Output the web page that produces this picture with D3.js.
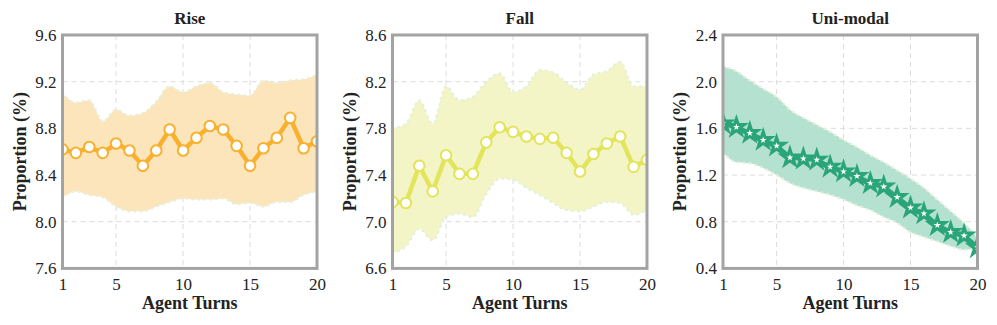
<!DOCTYPE html>
<html>
<head>
<meta charset="utf-8">
<script src="https://cdn.jsdelivr.net/npm/d3@7"></script>
<style>
  body { margin: 0; background: #fff; }
  svg { display: block; }
  .grid line { stroke: #dcdcdc; stroke-dasharray: 5,4; stroke-width: 1; }
</style>
</head>
<body>
<div id="chart"></div>
<script>
// Agent turns
var turns = d3.range(1, 21);

// Rise
var riseMean  = [8.62, 8.59, 8.64, 8.59, 8.67, 8.61, 8.48, 8.61, 8.79, 8.61, 8.72, 8.82, 8.79, 8.65, 8.48, 8.63, 8.72, 8.89, 8.63, 8.69];
var riseUpper = [9.10, 9.02, 9.04, 8.86, 8.96, 8.91, 8.93, 9.03, 9.16, 9.11, 9.16, 9.19, 9.11, 9.09, 9.08, 9.21, 9.19, 9.21, 9.22, 9.26];
var riseLower = [8.21, 8.26, 8.23, 8.21, 8.13, 8.09, 8.09, 8.13, 8.17, 8.20, 8.19, 8.19, 8.20, 8.15, 8.16, 8.13, 8.17, 8.17, 8.23, 8.26];

// Fall
var fallMean  = [7.17, 7.16, 7.48, 7.26, 7.57, 7.41, 7.41, 7.68, 7.81, 7.77, 7.73, 7.71, 7.72, 7.59, 7.43, 7.58, 7.67, 7.73, 7.47, 7.53];
var fallUpper = [7.80, 7.84, 8.04, 7.84, 8.16, 8.04, 8.07, 8.20, 8.27, 8.11, 8.16, 8.30, 8.28, 8.19, 8.13, 8.26, 8.29, 8.37, 8.16, 8.16];
var fallLower = [6.73, 6.79, 6.94, 6.84, 7.04, 7.07, 7.04, 7.24, 7.37, 7.36, 7.29, 7.23, 7.16, 7.10, 7.09, 7.13, 7.17, 7.16, 7.06, 7.10];

// Uni-modal
var uniMean  = [1.64, 1.61, 1.56, 1.50, 1.45, 1.35, 1.34, 1.33, 1.27, 1.23, 1.19, 1.13, 1.10, 1.01, 0.92, 0.87, 0.77, 0.71, 0.68, 0.58];
var uniUpper = [2.13, 2.09, 2.01, 1.94, 1.87, 1.76, 1.69, 1.63, 1.57, 1.50, 1.44, 1.37, 1.31, 1.24, 1.17, 1.09, 0.99, 0.89, 0.79, 0.67];
var uniLower = [1.39, 1.31, 1.30, 1.26, 1.20, 1.13, 1.09, 1.06, 1.03, 0.99, 0.94, 0.90, 0.84, 0.79, 0.71, 0.67, 0.63, 0.59, 0.56, 0.57];

var xTicks = [1, 5, 10, 15, 20];
var riseTicks = [7.6, 8.0, 8.4, 8.8, 9.2, 9.6];
var fallTicks = [6.6, 7.0, 7.4, 7.8, 8.2, 8.6];
var uniTicks  = [0.4, 0.8, 1.2, 1.6, 2.0, 2.4];

var panels = [
  {title: "Rise", mean: riseMean, upper: riseUpper, lower: riseLower, ticks: riseTicks,
   line: "#f8b02e", band: "#fde5bb", marker: "circle", left: 62.5},
  {title: "Fall", mean: fallMean, upper: fallUpper, lower: fallLower, ticks: fallTicks,
   line: "#e2e45a", band: "#f4f5c6", marker: "circle", left: 392.5},
  {title: "Uni-modal", mean: uniMean, upper: uniUpper, lower: uniLower, ticks: uniTicks,
   line: "#2aa57a", band: "#b5e1d0", marker: "star", left: 723}
];

var SERIF = "'Liberation Serif', 'Times New Roman', 'DejaVu Serif', serif";

function drawChart() {
  var W = 997, H = 325,
      plotW = 254.5, plotTop = 35, plotBottom = 268.4;

  var svg = d3.select("#chart").append("svg")
      .attr("width", W)
      .attr("height", H)
      .attr("font-family", SERIF);

  svg.append("defs").append("clipPath").attr("id", "plotClip")
    .append("rect")
      .attr("x", 0).attr("y", plotTop)
      .attr("width", plotW).attr("height", plotBottom - plotTop);

  panels.forEach(function(p) {
    var g = svg.append("g").attr("transform", "translate(" + p.left + ",0)");

    var x = d3.scaleLinear().domain([1, 20]).range([0, plotW]);
    var y = d3.scaleLinear().domain(d3.extent(p.ticks)).range([plotBottom, plotTop]);

    // grid
    var grid = g.append("g").attr("class", "grid");
    grid.selectAll(".gx").data(xTicks.slice(1, -1)).enter().append("line")
        .attr("x1", function(d) { return x(d); }).attr("x2", function(d) { return x(d); })
        .attr("y1", plotTop).attr("y2", plotBottom);
    grid.selectAll(".gy").data(p.ticks.slice(1, -1)).enter().append("line")
        .attr("x1", 0).attr("x2", plotW)
        .attr("y1", function(d) { return y(d); }).attr("y2", function(d) { return y(d); });

    var plot = g.append("g").attr("clip-path", "url(#plotClip)");

    // band
    var area = d3.area()
        .x(function(d, i) { return x(turns[i]); })
        .y0(function(d, i) { return y(p.lower[i]); })
        .y1(function(d, i) { return y(p.upper[i]); })
        .curve(d3.curveMonotoneX);
    plot.append("path").datum(turns)
        .attr("d", area)
        .attr("fill", p.band);

    var edge = d3.line().curve(d3.curveMonotoneX);
    [p.upper, p.lower].forEach(function(arr) {
      plot.append("path")
          .attr("d", edge(arr.map(function(v, i) { return [x(turns[i]), y(v)]; })))
          .attr("fill", "none")
          .attr("stroke", "#e4efdc")
          .attr("stroke-width", 2.4)
          .attr("stroke-linecap", "round")
          .attr("stroke-dasharray", "0.5,5.5");
    });

    // mean line
    var line = d3.line()
        .x(function(d, i) { return x(turns[i]); })
        .y(function(d) { return y(d); });
    plot.append("path").datum(p.mean)
        .attr("d", line)
        .attr("fill", "none")
        .attr("stroke", p.line)
        .attr("stroke-width", 4.5)
        .attr("stroke-linejoin", "round");

    // markers
    if (p.marker === "circle") {
      plot.selectAll(".dot").data(p.mean).enter().append("circle")
          .attr("cx", function(d, i) { return x(turns[i]); })
          .attr("cy", function(d) { return y(d); })
          .attr("r", 5.3)
          .attr("fill", "#fff")
          .attr("stroke", p.line)
          .attr("stroke-width", 2);
    } else {
      var star = d3.symbol().type(d3.symbolStar).size(80);
      plot.selectAll(".star").data(p.mean).enter().append("path")
          .attr("transform", function(d, i) { return "translate(" + x(turns[i]) + "," + y(d) + ")"; })
          .attr("d", star)
          .attr("fill", "#fff")
          .attr("stroke", p.line)
          .attr("stroke-width", 3)
          .attr("stroke-linejoin", "miter");
    }

    // frame
    g.append("rect")
        .attr("x", 0).attr("y", plotTop)
        .attr("width", plotW).attr("height", plotBottom - plotTop)
        .attr("fill", "none")
        .attr("stroke", "#a3a3a3")
        .attr("stroke-width", 3);

    // axes
    var xAxis = d3.axisBottom(x).tickValues(xTicks).tickSize(0).tickPadding(10).tickFormat(d3.format("d"));
    var yAxis = d3.axisLeft(y).tickValues(p.ticks).tickSize(0).tickPadding(6).tickFormat(d3.format(".1f"));
    [g.append("g").attr("transform", "translate(0," + plotBottom + ")").call(xAxis),
     g.append("g").call(yAxis)].forEach(function(ax) {
      ax.attr("font-family", SERIF).attr("font-size", 17);
      ax.select(".domain").remove();
      ax.selectAll(".tick text").attr("fill", "#222");
    });

    // title
    g.append("text")
        .attr("x", plotW / 2).attr("y", 24)
        .attr("text-anchor", "middle")
        .attr("font-weight", "bold").attr("font-size", 17).attr("fill", "#222")
        .text(p.title);

    // x label
    g.append("text")
        .attr("x", plotW / 2).attr("y", 309)
        .attr("text-anchor", "middle")
        .attr("font-weight", "bold").attr("font-size", 18).attr("fill", "#222")
        .text("Agent Turns");

    // y label
    g.append("text")
        .attr("transform", "translate(-37," + ((plotTop + plotBottom) / 2) + ") rotate(-90)")
        .attr("text-anchor", "middle")
        .attr("font-weight", "bold").attr("font-size", 18).attr("fill", "#222")
        .text("Proportion (%)");
  });
}

drawChart();
</script>
</body>
</html>
